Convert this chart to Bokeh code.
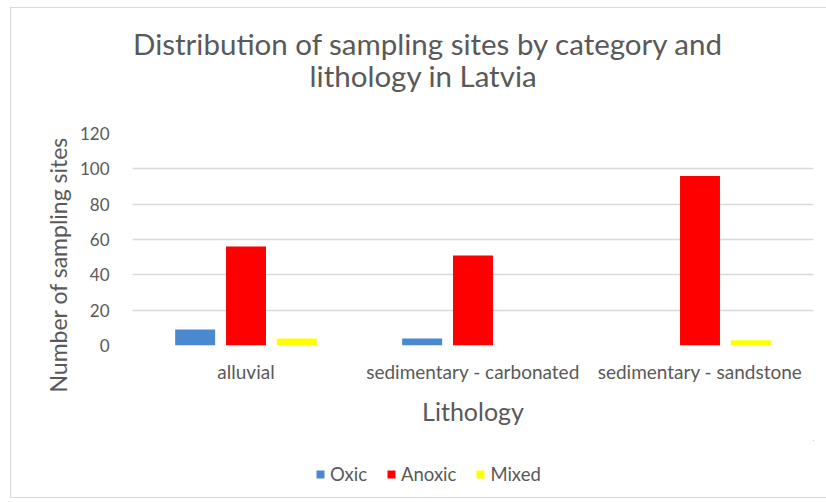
from bokeh.plotting import figure
from bokeh.layouts import column
from bokeh.models import (ColumnDataSource, FactorRange, Range1d, SingleIntervalTicker, Title,
                          Legend, LegendItem, Label)
from bokeh.transform import dodge
from bokeh.embed import file_html
from bokeh.resources import INLINE

# Sampling sites per lithology and redox category
lithology = ["alluvial", "sedimentary - carbonated", "sedimentary - sandstone"]
oxic = [9, 4, 0]
anoxic = [56, 51, 96]
mixed = [4, 0, 3]

series_names = ["Oxic", "Anoxic", "Mixed"]
series_colors = ["#4A89CF", "#FF0000", "#FFFF00"]

FONT = "Lato"
TEXT = "#595959"
GRID = "#D9D9D9"
W = 815


def blank_panel(height, x_range, y_range):
    """A figure without axes or grid, used to hold text and the legend."""
    f = figure(width=W, height=height, x_range=x_range, y_range=y_range,
               x_axis_type=None, y_axis_type=None, output_backend="svg",
               toolbar_location=None, title=None,
               min_border_left=0, min_border_right=0, min_border_top=0, min_border_bottom=0)
    f.outline_line_color = None
    f.background_fill_color = "white"
    f.border_fill_color = "white"
    return f


source = ColumnDataSource(data=dict(lithology=lithology, Oxic=oxic, Anoxic=anoxic, Mixed=mixed))

# ---- chart title (screen offsets are measured from the plot-area frame) ----
head = blank_panel(112, Range1d(0, 1), Range1d(0, 1))
title_kw = dict(x_units="screen", y_units="screen", text_font=FONT, text_color=TEXT,
                text_font_size="29.5px", text_align="center", text_baseline="alphabetic")
head.add_layout(Label(x=296, y=77, text="Distribution of sampling sites by category and", **title_kw))
head.add_layout(Label(x=291, y=45, text="lithology in Latvia", **title_kw))

# ---- bar chart ---------------------------------------------------------
p = figure(
    width=W, height=320,
    x_range=FactorRange(*lithology),
    y_range=Range1d(0, 120),
    output_backend="svg",
    toolbar_location=None,
    title=None,
    min_border_left=121, min_border_right=13,
    min_border_top=13, min_border_bottom=95,
)
p.outline_line_color = None
p.background_fill_color = "white"
p.border_fill_color = "white"

offsets = [-0.224, 0.0, 0.224]
for name, color, off in zip(series_names, series_colors, offsets):
    p.vbar(x=dodge("lithology", off, range=p.x_range), top=name, width=0.176,
           source=source, fill_color=color, line_color=None)

p.yaxis.ticker = SingleIntervalTicker(interval=20)
for ax in (p.xaxis[0], p.yaxis[0]):
    ax.axis_line_color = None
    ax.major_tick_line_color = None
    ax.minor_tick_line_color = None
    ax.major_label_text_font = FONT
    ax.major_label_text_color = TEXT
p.yaxis.major_label_text_font_size = "17px"
p.yaxis.major_label_standoff = 17
p.xaxis.major_label_text_font_size = "19px"
p.xaxis.major_label_standoff = 8

p.xgrid.grid_line_color = None
p.ygrid.grid_line_color = GRID
p.ygrid.grid_line_width = 1.3

p.add_layout(Title(text="Number of sampling sites", align="left", offset=-47, standoff=10,
                   text_font=FONT, text_color=TEXT, text_font_size="23px",
                   text_font_style="normal"), "left")
p.add_layout(Title(text="Lithology", align="center", standoff=17,
                   text_font=FONT, text_color=TEXT, text_font_size="25px",
                   text_font_style="normal"), "below")

# ---- legend strip: its ranges sit away from the data, so only the key shows ----
foot = blank_panel(57, Range1d(-2, -1), Range1d(-2, -1))
items = []
for name, color in zip(series_names, series_colors):
    r = foot.vbar(x=name, top=name, width=0.1, source=source,
                  fill_color=color, line_color=None)
    items.append(LegendItem(label=name, renderers=[r]))
lg = Legend(items=items, orientation="horizontal", location=(183, 12),
            padding=0, margin=0, spacing=19, border_line_color=None,
            background_fill_alpha=0, glyph_width=10, glyph_height=10,
            label_standoff=5, label_height=18, label_text_font=FONT,
            label_text_color=TEXT, label_text_font_size="18.5px")
foot.add_layout(lg)

layout = column(head, p, foot, spacing=0)
layout.styles = {
    "margin-left": "10px",
    "margin-top": "7px",
    "border-left": "1px solid #D9D9D9",
    "border-top": "1px solid #D9D9D9",
    "border-bottom": "1px solid #D9D9D9",
}

open("out.html", "w").write(file_html(layout, INLINE))
